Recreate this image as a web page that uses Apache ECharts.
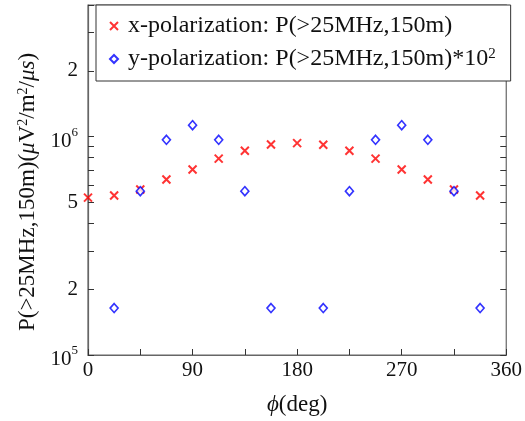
<!DOCTYPE html>
<html>
<head>
<meta charset="utf-8">
<script src="https://cdn.jsdelivr.net/npm/echarts@6/dist/echarts.min.js"></script>
<style>
html,body{margin:0;padding:0;background:#fff;}
#chart{width:525px;height:421px;}
</style>
</head>
<body>
<div id="chart"></div>
<script>
// Azimuth angles (deg)
const phi = [0, 22.5, 45, 67.5, 90, 112.5, 135, 157.5, 180, 202.5, 225, 247.5, 270, 292.5, 315, 337.5];
// x-polarization: P(>25MHz,150m)
const xPol = [5.25e5, 5.37e5, 5.72e5, 6.36e5, 7.06e5, 7.92e5, 8.61e5, 9.2e5, 9.33e5, 9.17e5, 8.61e5, 7.92e5, 7.06e5, 6.36e5, 5.72e5, 5.37e5];
// y-polarization: P(>25MHz,150m)*10^2 (no point shown at 0 and 180)
const yPol = [null, 1.64e5, 5.62e5, 9.66e5, 1.127e6, 9.66e5, 5.62e5, 1.64e5, null, 1.64e5, 5.62e5, 9.66e5, 1.127e6, 9.66e5, 5.62e5, 1.64e5];
// Axis ticks
const xTickLabels = [0, 90, 180, 270, 360];
const yTickValues = [1e5, 2e5, 3e5, 4e5, 5e5, 6e5, 7e5, 8e5, 9e5, 1e6, 2e6, 3e6, 4e6];
const yLabelValues = [1e5, 2e5, 5e5, 1e6, 2e6];
const seriesNames = ['x-polarization: P(>25MHz,150m)', 'y-polarization: P(>25MHz,150m)*10^2'];

const FONT = '"Liberation Serif", "DejaVu Serif", serif';
const chart = echarts.init(document.getElementById('chart'), null, {renderer: 'canvas'});

function yFmt(v) {
  const e = Math.round(Math.log10(v));
  if (Math.abs(v - Math.pow(10, e)) < 1e-6 * v) return '{b|10}{sup|' + e + '}';
  return String(Math.round(v / Math.pow(10, Math.floor(Math.log10(v) + 1e-9))));
}
const ySup = {
  b: {fontFamily: FONT, fontSize: 21, lineHeight: 21, color: '#111', padding: [9, 0, 0, 0]},
  sup: {fontSize: 13, lineHeight: 13, verticalAlign: 'top', fontFamily: FONT, color: '#111'}
};

const option = {
  backgroundColor: '#fff',
  animation: false,
  grid: {left: 88, right: 16, top: 5, bottom: 64, show: true, borderColor: '#666', borderWidth: 1.2},
  xAxis: {
    type: 'value', min: 0, max: 360, interval: 45,
    name: '{i|ϕ}(deg)', nameLocation: 'middle', nameGap: 38,
    nameTextStyle: {fontFamily: FONT, fontSize: 23, color: '#111', rich: {i: {fontFamily: FONT, fontStyle: 'italic', fontSize: 23}}},
    axisLine: {show: true, lineStyle: {color: '#666', width: 1.2}},
    axisTick: {inside: true, length: 6, lineStyle: {color: '#333'}},
    splitLine: {show: false},
    axisLabel: {
      fontFamily: FONT, fontSize: 21, color: '#111', margin: 5,
      formatter: v => (xTickLabels.indexOf(v) >= 0 ? String(v) : '')
    }
  },
  yAxis: [{
    type: 'log', logBase: 10, min: 1e5, max: 4e6,
    name: 'P(>25MHz,150m)({i|μ}V{s|2}/m{s|2}/{i|μs})', nameLocation: 'middle', nameGap: 46, nameRotate: 90,
    nameTextStyle: {fontFamily: FONT, fontSize: 23, color: '#111', padding: [0, 24, 0, 0],
      rich: {i: {fontFamily: FONT, fontStyle: 'italic', fontSize: 23}, s: {fontFamily: FONT, fontSize: 14, verticalAlign: 'top', padding: [0,0,10,0]}}},
    axisLine: {show: true, lineStyle: {color: '#666', width: 1.2}},
    axisTick: {inside: true, length: 6, lineStyle: {color: '#333'}, customValues: yTickValues},
    splitLine: {show: false},
    axisLabel: {fontFamily: FONT, fontSize: 21, color: '#111', margin: 10, customValues: yLabelValues, formatter: yFmt, rich: ySup}
  }, {
    type: 'log', logBase: 10, min: 1e5, max: 4e6, position: 'right',
    axisLine: {show: false},
    axisTick: {inside: true, length: 6, lineStyle: {color: '#333'}, customValues: yTickValues},
    splitLine: {show: false},
    axisLabel: {show: false}
  }],
  legend: {
    orient: 'vertical', left: 96, top: 5,
    backgroundColor: '#fff', borderColor: '#333', borderWidth: 1,
    padding: [9, 15, 10, 13], itemGap: 9, itemWidth: 8, itemHeight: 8,
    textStyle: {fontFamily: FONT, fontSize: 24, lineHeight: 24, color: '#111', padding: [0, 0, 0, 5],
      rich: {s: {fontFamily: FONT, fontSize: 15, lineHeight: 15, verticalAlign: 'top', padding: [0,0,9,0]}}},
    formatter: n => n.replace('10^2', '10{s|2}'),
    data: seriesNames
  },
  series: [{
    name: seriesNames[0], type: 'scatter',
    data: phi.map((p, i) => [p, xPol[i]]),
    symbol: 'path://M0,0L10,10M10,0L0,10', symbolSize: 8,
    itemStyle: {color: 'rgba(0,0,0,0)', borderColor: '#ff0000', borderWidth: 2}
  }, {
    name: seriesNames[1], type: 'scatter',
    data: phi.map((p, i) => [p, yPol[i]]).filter(d => d[1] !== null),
    symbol: 'diamond', symbolSize: [8, 9],
    itemStyle: {color: '#fff', borderColor: '#0000ff', borderWidth: 1.6}
  }]
};
chart.setOption(option);
</script>
</body>
</html>
